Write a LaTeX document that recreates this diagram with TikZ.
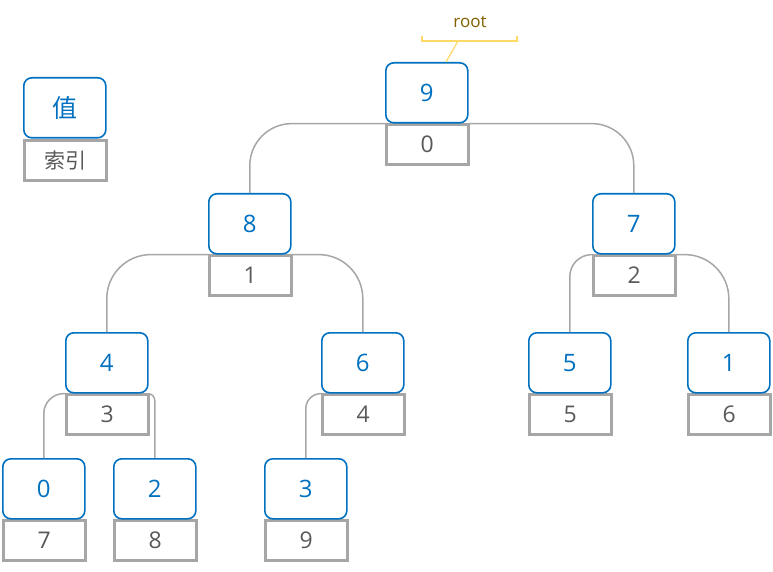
\documentclass[tikz,border=0pt]{standalone}
\usepackage{fontspec}
\setmainfont{Open Sans}
\newfontfamily\cjk{Noto Sans CJK SC}
\definecolor{valblue}{HTML}{0070C0}
\definecolor{idxgray}{HTML}{A6A6A6}
\definecolor{idxtext}{HTML}{595959}
\definecolor{rootgold}{HTML}{7F6000}
\definecolor{rootline}{HTML}{FFD966}
\begin{document}
\begin{tikzpicture}[x=1pt,y=-1pt,
  valbox/.style={draw=valblue, line width=1.6pt, rounded corners=8pt, minimum width=82pt, minimum height=60pt, inner sep=0pt, text=valblue, font=\fontsize{24}{28}\selectfont, anchor=north west},
  idxbox/.style={draw=idxgray, line width=2.6pt, minimum width=82pt, minimum height=40pt, inner sep=0pt, text=idxtext, font=\fontsize{23}{26}\selectfont, anchor=north west},
  edge/.style={draw=idxgray, line width=1.5pt}]
\path[use as bounding box] (0,0) rectangle (773,572);
\newcommand\heapnode[5]{%
  \node[idxbox] (#1i) at (#2,{#3+61}) {#5};
  \node[valbox] (#1v) at (#2,#3) {#4};}
% nodes
\heapnode{r}{385}{62}{9}{0}
\heapnode{a}{208}{193}{8}{1}
\heapnode{b}{592}{193}{7}{2}
\heapnode{c}{65}{332}{4}{3}
\heapnode{d}{321}{332}{6}{4}
\heapnode{e}{528}{332}{5}{5}
\heapnode{f}{687}{332}{1}{6}
\heapnode{g}{2}{458}{0}{7}
\heapnode{h}{113}{458}{2}{8}
\heapnode{k}{264}{458}{3}{9}
% edges
\begin{scope}[on background layer/.style={}]
\draw[edge, rounded corners=42pt] (rv.south west) -| (av.north);
\draw[edge, rounded corners=42pt] (rv.south east) -| (bv.north);
\draw[edge, rounded corners=44pt] (av.south west) -| (cv.north);
\draw[edge, rounded corners=44pt] (av.south east) -| (dv.north);
\draw[edge, rounded corners=20pt] (cv.south west) -| (gv.north);
\draw[edge, rounded corners=7pt] (cv.south east) -| (hv.north);
\draw[edge, rounded corners=15pt] (dv.south west) -| (kv.north);
\draw[edge, rounded corners=22pt] (bv.south west) -| (ev.north);
\draw[edge, rounded corners=44pt] (bv.south east) -| (fv.north);
\end{scope}
% legend
\node[idxbox] (legi) at (23,139) {\cjk\fontsize{21}{24}\selectfont 索引};
\node[valbox] (legv) at (23,77) {\cjk\fontsize{25}{28}\selectfont 值};
% root callout
\node[text=rootgold, font=\fontsize{17}{20}\selectfont] (rootlbl) at (470,22) {root};
\coordinate (bl) at (422,36);
\coordinate (br) at (517,36);
\coordinate (callout) at (458,41);
\draw[rootline, line width=1.2pt] (bl) -- ++(0,5) -| (br);
\draw[rootline, line width=1.2pt] (callout) -- (rv.north -| 446,0);
\end{tikzpicture}
\end{document}
